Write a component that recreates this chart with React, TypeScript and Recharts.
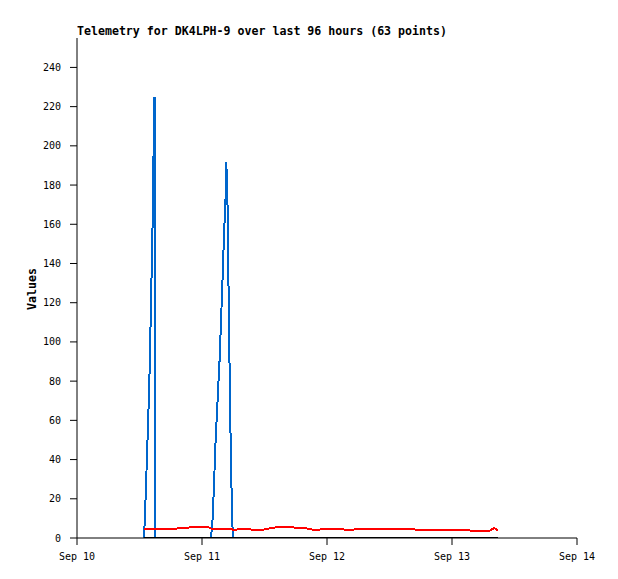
import { LineChart, Line, XAxis, YAxis } from "recharts";

// hours since Sep 10 00:00
const hours = [
  12.86, 13.06, 13.38, 13.69, 13.96, 14.15, 14.34, 14.53, 14.65, 14.78, 14.88, 15.01,
  17.86, 21.12, 21.7, 25.15, 25.73,
  26.05, 26.25, 26.44, 26.63, 26.88, 27.13, 27.4, 27.59, 27.78, 27.97, 28.17, 28.36,
  28.55, 28.67, 28.9, 29.13, 29.43, 29.76,
  29.95, 30.72, 31.49, 32.26, 33.02, 33.79, 34.75, 35.52, 36.29, 37.82, 39.74, 41.86,
  44.35, 45.89, 47.04, 50.5, 52.61, 53.76, 58.18, 64.32, 64.9, 69.7, 74.88, 75.46,
  79.3, 80.06, 80.45, 80.83,
];

const blueVals = [
  0, 12, 37, 62, 87, 112, 137, 162, 187, 212, 225, 0,
  0, 0, 0, 0, 0,
  10, 23.5, 37, 51, 64, 78, 92, 106, 120, 134, 150, 163,
  175, 192, 170, 120, 60, 12,
  0, 0, 0, 0, 0, 0, 0, 0, 0, 0, 0, 0,
  0, 0, 0, 0, 0, 0, 0, 0, 0, 0, 0, 0,
  0, 0, 0, 0,
];

const redVals = [
  4.8, 4.8, 4.8, 4.8, 4.8, 4.8, 4.8, 4.8, 4.8, 4.8, 4.8, 4.8,
  4.8, 4.9, 5.6, 5.6, 4.8,
  4.8, 4.8, 4.8, 4.8, 4.8, 4.8, 4.8, 4.8, 4.8, 4.8, 4.8, 4.8,
  4.8, 4.8, 4.8, 4.8, 4.8, 4.8,
  3.9, 4.3, 4.8, 4.3, 4.8, 3.9, 4.2, 4.0, 4.6, 5.3, 5.8, 5.3,
  4.8, 3.9, 4.6, 4.6, 3.9, 4.8, 4.8, 4.8, 4.3, 4.3, 4.3, 3.8,
  3.8, 5.0, 4.6, 3.8,
];

const blackVals = [
  0, 0, 0, 0, 0, 0, 0, 0, 0, 0, 0, 0,
  0, 0, 0, 0, 0,
  0, 0, 0, 0, 0, 0, 0, 0, 0, 0, 0, 0,
  0, 0, 0, 0, 0, 0,
  0, 0, 0, 0, 0, 0, 0, 0, 0, 0, 0, 0,
  0, 0, 0, 0, 0, 0, 0, 0, 0, 0, 0, 0,
  0, 0, 0, 0,
];

const xTicks = [0, 24, 48, 72, 96];
const xLabels = ["Sep 10", "Sep 11", "Sep 12", "Sep 13", "Sep 14"];
const yTicks = [0, 20, 40, 60, 80, 100, 120, 140, 160, 180, 200, 220, 240];

const title = "Telemetry for DK4LPH-9 over last 96 hours (63 points)";

const rows = hours.map((h, i) => ({
  h,
  blue: blueVals[i],
  red: redVals[i],
  black: blackVals[i],
}));

const mono = "'DejaVu Sans Mono', monospace";
const tickStyle = { fill: "#000", fontSize: 10, fontFamily: mono };

export default function App() {
  return (
    <div style={{ position: "absolute", left: 0, top: 0, width: 618, height: 579, background: "#fff" }}>
      <LineChart
        width={618}
        height={579}
        data={rows}
        margin={{ top: 38, right: 41, bottom: 11, left: 17 }}
      >
        <XAxis
          xAxisId="b"
          dataKey="h"
          type="number"
          domain={[0, 96]}
          ticks={xTicks}
          tickFormatter={(v) => xLabels[xTicks.indexOf(v)]}
          height={30}
          tickSize={7}
          tickMargin={8}
          stroke="#000"
          tick={tickStyle}
          allowDataOverflow
        />
        <XAxis
          xAxisId="t"
          orientation="top"
          dataKey="h"
          type="number"
          domain={[0, 96]}
          height={0}
          tick={false}
          tickLine={false}
          stroke="#000"
        />
        <YAxis
          yAxisId="l"
          domain={[0, 255]}
          ticks={yTicks}
          width={60}
          tickSize={7}
          tickMargin={9}
          stroke="#000"
          tick={tickStyle}
          allowDataOverflow
        />
        <YAxis
          yAxisId="r"
          orientation="right"
          domain={[0, 255]}
          width={0}
          tick={false}
          tickLine={false}
          stroke="#000"
        />
        <Line
          xAxisId="b"
          yAxisId="l"
          type="linear"
          dataKey="blue"
          stroke="#0066cc"
          strokeWidth={2}
          dot={false}
          shapeRendering="crispEdges"
          isAnimationActive={false}
        />
        <Line
          xAxisId="b"
          yAxisId="l"
          type="linear"
          dataKey="red"
          stroke="#ff0000"
          strokeWidth={2}
          dot={false}
          shapeRendering="crispEdges"
          isAnimationActive={false}
        />
        <Line
          xAxisId="b"
          yAxisId="l"
          type="linear"
          dataKey="black"
          stroke="#000000"
          strokeWidth={2}
          dot={false}
          shapeRendering="crispEdges"
          isAnimationActive={false}
        />
        <text x={77} y={35} fontFamily={mono} fontSize={11.6} fontWeight="bold" fill="#000">
          {title}
        </text>
        <text
          x={32}
          y={289}
          transform="rotate(-90 32 289)"
          textAnchor="middle"
          dominantBaseline="central"
          fontFamily={mono}
          fontSize={11.6}
          fontWeight="bold"
          fill="#000"
        >
          Values
        </text>
      </LineChart>
    </div>
  );
}
